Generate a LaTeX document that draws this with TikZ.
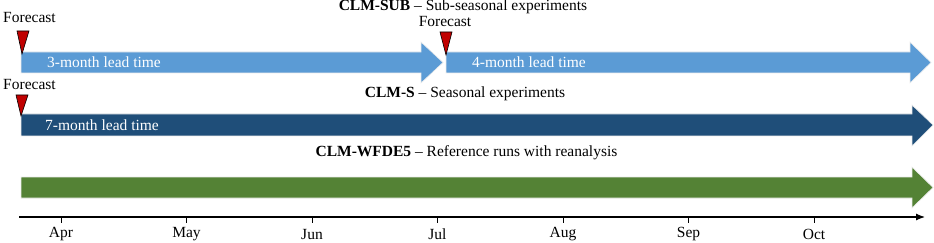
\documentclass[tikz,border=0pt]{standalone}
\usepackage{fontspec}
\setmainfont{Liberation Serif}
\usetikzlibrary{arrows.meta}
\definecolor{subblue}{HTML}{5B9BD5}
\definecolor{seasblue}{HTML}{1F4E79}
\definecolor{refgreen}{HTML}{548235}
\definecolor{fcred}{HTML}{C00000}
\begin{document}
\begin{tikzpicture}[x=1pt,y=-1pt, every node/.style={font=\fontsize{15.5}{17}\selectfont,inner sep=0pt},
  leadbar/.style={draw=white!85!gray,line width=0.6pt},
  fcmark/.style={fill=fcred,draw=black,line width=0.6pt},
  leadtxt/.style={text=white,anchor=west},
  month/.style={anchor=center}]
\useasboundingbox (0,0) rectangle (934,243);
% lead time arrows
\filldraw[leadbar,fill=subblue] (21,52) -- (421,52) -- (421,42) -- (443,62.5) -- (421,83) -- (421,73) -- (21,73) -- cycle;
\filldraw[leadbar,fill=subblue] (446,52) -- (910,52) -- (910,42) -- (931,62.5) -- (910,83) -- (910,73) -- (446,73) -- cycle;
\filldraw[leadbar,fill=seasblue] (21,114) -- (912,114) -- (912,105) -- (933,125) -- (912,146) -- (912,136) -- (21,136) -- cycle;
\filldraw[leadbar,fill=refgreen] (21,177) -- (912,177) -- (912,167) -- (933,187.5) -- (912,208) -- (912,198) -- (21,198) -- cycle;
\node[leadtxt] (sub1) at (47,62.5) {3-month lead time};
\node[leadtxt] (sub2) at (472,62.5) {4-month lead time};
\node[leadtxt] (seas) at (45,125.5) {7-month lead time};
% forecast markers
\filldraw[fcmark] (17,31) -- (29,31) -- (22,54) -- cycle;
\filldraw[fcmark] (440,32) -- (452,32) -- (446,55) -- cycle;
\filldraw[fcmark] (16,95) -- (28,95) -- (21,116) -- cycle;
\node (fc1) at (29.5,18) {Forecast};
\node (fc2) at (445,22) {Forecast};
\node (fc3) at (29.5,85) {Forecast};
% experiment titles
\node (tsub) at (463,7) {\textbf{CLM-SUB} -- Sub-seasonal experiments};
\node (tseas) at (465,93.5) {\textbf{CLM-S} -- Seasonal experiments};
\node (tref) at (466.5,152.5) {\textbf{CLM-WFDE5} -- Reference runs with reanalysis};
% time axis
\coordinate (ax0) at (19,217);
\coordinate (ax1) at (925,217);
\draw[line width=1.2pt,-{Latex[length=9pt,width=7pt]}] (ax0) -- (ax1);
\foreach \m [count=\i from 0] in {Apr,May,Jun,Jul,Aug,Sep,Oct}
  \draw[line width=1pt] (61+125.5*\i,217) -- (61+125.5*\i,223)
    node[month] (m\i) at (61+125.5*\i,234) {\m};
\end{tikzpicture}
\end{document}
